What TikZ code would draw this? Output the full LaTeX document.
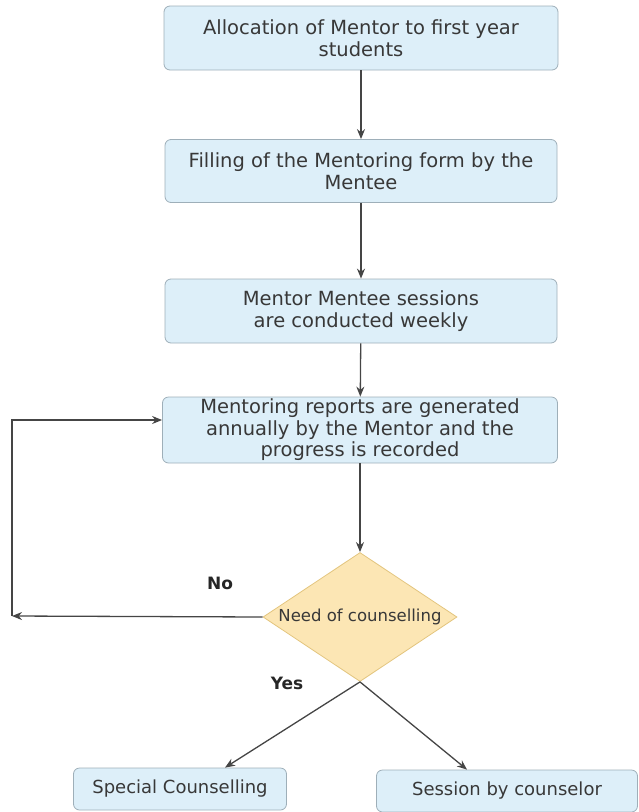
\documentclass[tikz,border=0pt]{standalone}
\usepackage{fontspec}
\setmainfont{DejaVu Sans}
\usetikzlibrary{shapes.geometric,arrows.meta}
\definecolor{boxfill}{HTML}{DDEFF9}
\definecolor{boxline}{HTML}{9EAFB9}
\definecolor{decfill}{HTML}{FCE6B4}
\definecolor{decline}{HTML}{E3C57E}
\definecolor{arrline}{HTML}{454545}
\definecolor{txt}{HTML}{383838}
\begin{document}
\begin{tikzpicture}[x=1pt,y=-1pt,
					stepbox/.style={rectangle,rounded corners=6pt,draw=boxline,thick,fill=boxfill,align=center,font=\fontsize{19.5}{21.5}\selectfont,text=txt,inner sep=0pt},
					endbox/.style={stepbox,font=\fontsize{18}{21}\selectfont,minimum height=42pt},
					decision/.style={diamond,draw=decline,thick,fill=decfill,aspect=1.5,inner sep=0pt,minimum width=194pt,minimum height=129pt,font=\fontsize{16.5}{18}\selectfont,text=txt},
					lbl/.style={font=\fontsize{17}{18}\selectfont\bfseries,text=black!85},
					arr/.style={-{Stealth[length=10pt,width=8pt]},draw=arrline,line width=1.3pt},
					]
					\useasboundingbox (0,0) rectangle (638,812);
					\node [stepbox,minimum width=394pt,minimum height=64pt] (alloc) at (361,38) {Allocation of Mentor to first year\\ students};
					\node [stepbox,minimum width=392pt,minimum height=63pt] (form) at (361,171) {Filling of the Mentoring form by the\\ Mentee};
					\node [stepbox,minimum width=392pt,minimum height=64pt] (sessions) at (361,311) {Mentor Mentee sessions\\ are conducted weekly};
					\node [stepbox,minimum width=395pt,minimum height=66pt] (reports) at (360,430) {Mentoring reports are generated\\ annually by the Mentor and the\\ progress is recorded};
					\node [decision] (need) at (360,617) {Need of counselling};
					\node [endbox,minimum width=213pt] (special) at (180,789) {Special Counselling};
					\node [endbox,minimum width=261pt] (counselor) at (507,791) {Session by counselor};
					\coordinate (noend) at (12,616);
					\node [lbl] (no) at (220,583) {No};
					\node [lbl] (yes) at (287,683) {Yes};
					\draw[arr] (alloc) -- (form);
					\draw[arr] (form) -- (sessions);
					\draw[arr] (sessions) -- (reports);
					\draw[arr] (reports) -- (need);
					\draw[arr] (need.west) -- (noend);
					\draw[arr] (noend) |- ([yshift=10pt]reports.west);
					\draw[arr] (need.south) -- (special.north -| 225,0);
					\draw[arr] (need.south) -- (counselor.north -| 467,0);
				\end{tikzpicture}
\end{document}
